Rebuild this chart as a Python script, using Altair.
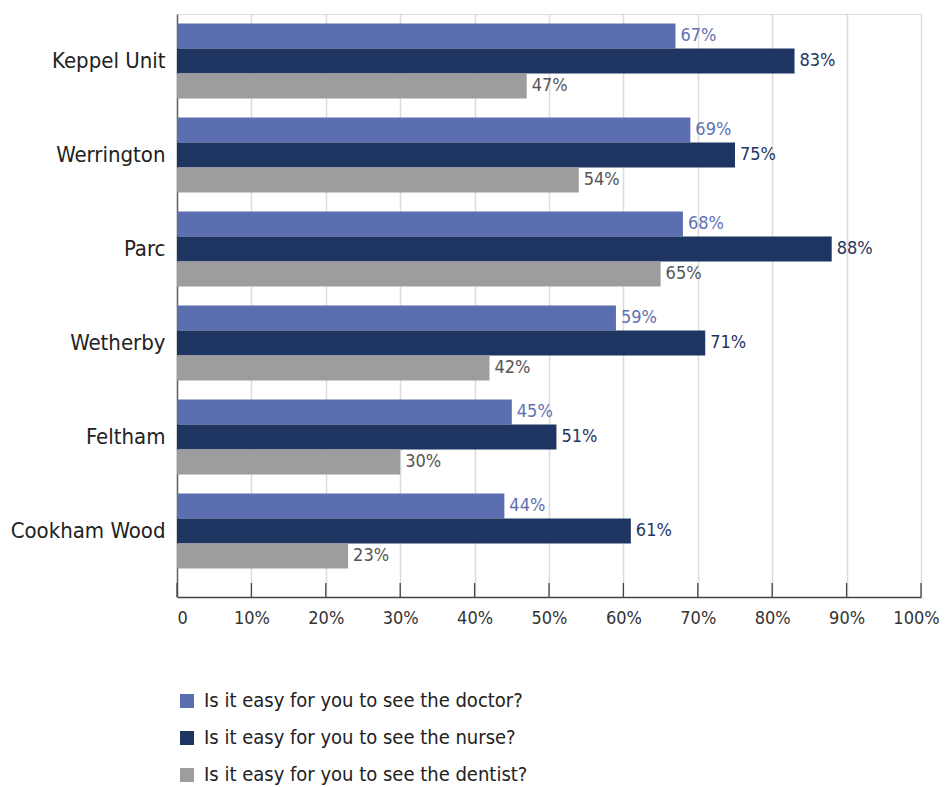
import altair as alt
import pandas as pd

categories = ["Keppel Unit", "Werrington", "Parc", "Wetherby", "Feltham", "Cookham Wood"]
series = [
    "Is it easy for you to see the doctor?",
    "Is it easy for you to see the nurse?",
    "Is it easy for you to see the dentist?",
]
doctor = [67, 69, 68, 59, 45, 44]
nurse = [83, 75, 88, 71, 51, 61]
dentist = [47, 54, 65, 42, 30, 23]
bar_colors = ["#5a6eb0", "#1e3461", "#9d9d9d"]
label_colors = ["#5f70b3", "#1e3461", "#555555"]
tick_values = [0, 10, 20, 30, 40, 50, 60, 70, 80, 90, 100]

FONT = "DejaVu Sans Condensed, Liberation Sans Narrow, Roboto, sans-serif"

rows = []
for i, c in enumerate(categories):
    for s, vals, lc in zip(series, [doctor, nurse, dentist], label_colors):
        rows.append({"cat": c, "series": s, "value": vals[i],
                     "label": f"{vals[i]}%", "lcolor": lc})
df = pd.DataFrame(rows)
tick_df = pd.DataFrame({"t": tick_values})

x_scale = alt.Scale(domain=[0, 100], nice=False, zero=True)
y_scale = alt.Scale(domain=categories, paddingInner=0.2, paddingOuter=0.201, align=0.249)
yoff = alt.YOffset("series:N", sort=series, scale=alt.Scale(domain=series))

x_axis = alt.Axis(values=tick_values, labelExpr="datum.value == 0 ? '0' : datum.value + '%'",
                  labelFlush=False,
                  labelAlign=alt.ExprRef(expr="datum.value == 0 ? 'left' : 'center'"),
                  labelOffset=alt.ExprRef(expr="datum.value == 100 ? -5 : 0"),
                  ticks=False, labelPadding=12, labelFontSize=18, labelColor="#333333",
                  labelFont=FONT, domainColor="#444444", domainWidth=1.5,
                  gridColor="#dcdcdc", gridWidth=1.5, title=None)
y_axis = alt.Axis(ticks=False, labelPadding=12, labelFontSize=22, labelColor="#222222",
                  labelFont=FONT, domainColor="#666666", domainWidth=1.5, title=None,
                  grid=False, labelLimit=200)

bars = alt.Chart(df).mark_bar().encode(
    x=alt.X("value:Q", scale=x_scale, axis=x_axis),
    y=alt.Y("cat:N", scale=y_scale, sort=categories, axis=y_axis),
    yOffset=yoff,
    color=alt.Color("series:N", scale=alt.Scale(domain=series, range=bar_colors),
                    legend=alt.Legend(orient="none", legendX=0, legendY=677, title=None,
                                      symbolType="square", symbolSize=196,
                                      symbolStrokeWidth=0, labelFontSize=20,
                                      labelFont=FONT, labelColor="#222222",
                                      labelOffset=7, rowPadding=17, padding=0,
                                      labelLimit=600)),
)

labels = alt.Chart(df).mark_text(align="left", baseline="middle", dx=5,
                                 fontSize=18, font=FONT).encode(
    x=alt.X("value:Q", scale=x_scale),
    y=alt.Y("cat:N", scale=y_scale, sort=categories),
    yOffset=yoff,
    text="label:N",
    color=alt.Color("lcolor:N", scale=None),
)

ticks = alt.Chart(tick_df).mark_rule(color="#444444", strokeWidth=1.3).encode(
    x=alt.X("t:Q", scale=x_scale),
    y=alt.value(569),
    y2=alt.value(583),
)

chart = alt.layer(bars, ticks, labels).resolve_scale(color="independent").properties(
    width=744, height=583,
    autosize=alt.AutoSizeParams(type="none"),
    padding={"left": 169, "top": 6, "right": 19, "bottom": 188},
).configure_view(stroke=None).configure(font=FONT)

chart.save("out.html", embed_options={"renderer": "svg", "actions": False})
